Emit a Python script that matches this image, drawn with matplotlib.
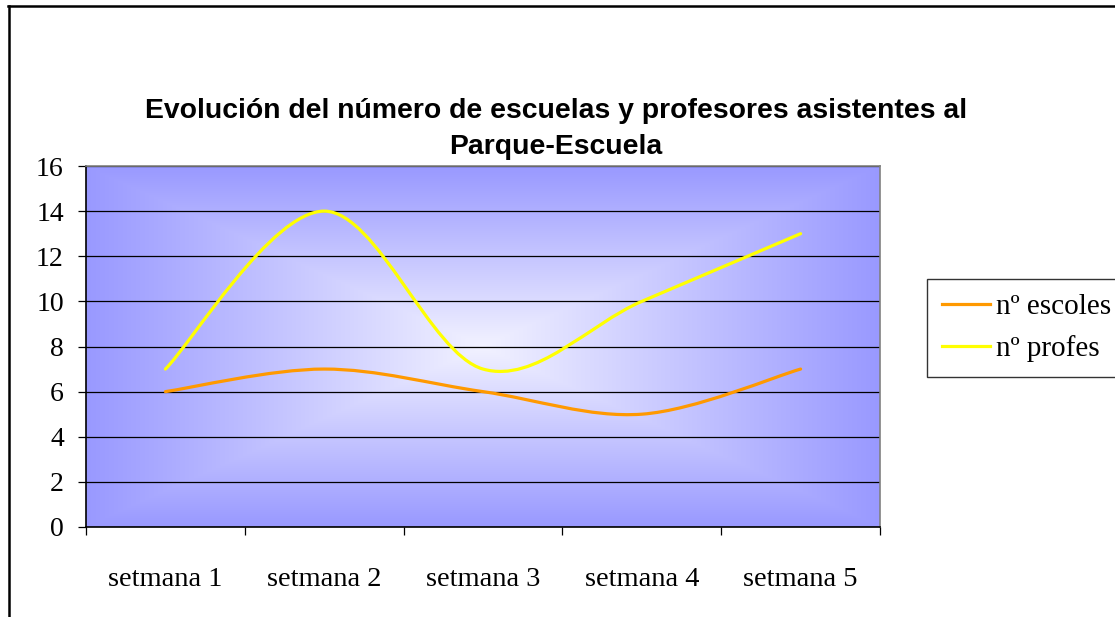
import numpy as np
import matplotlib
matplotlib.use("Agg")
import matplotlib.pyplot as plt
from matplotlib.path import Path
from matplotlib.patches import PathPatch
from matplotlib.lines import Line2D
from matplotlib.ticker import FixedLocator, NullFormatter, FixedFormatter

weeks = ["setmana 1", "setmana 2", "setmana 3", "setmana 4", "setmana 5"]
escoles = [6, 7, 6, 5, 7]
profes = [7, 14, 7, 10, 13]
series_names = ["nº escoles", "nº profes"]
series_colors = ["#FF9900", "#FFFF00"]
title = "Evolución del número de escuelas y profesores asistentes al\nParque-Escuela"

SERIF = "Liberation Serif"


def smooth_path(xs, ys):
    # excel-like smoothed line: cubic bezier through every point
    n = len(xs)
    verts = [(xs[0], ys[0])]
    codes = [Path.MOVETO]
    for i in range(n - 1):
        a = max(i - 1, 0)
        b = min(i + 2, n - 1)
        c1 = (xs[i] + (xs[i + 1] - xs[a]) / 6, ys[i] + (ys[i + 1] - ys[a]) / 6)
        c2 = (xs[i + 1] - (xs[b] - xs[i]) / 6, ys[i + 1] - (ys[b] - ys[i]) / 6)
        verts += [c1, c2, (xs[i + 1], ys[i + 1])]
        codes += [Path.CURVE4] * 3
    return Path(verts, codes)


fig = plt.figure(figsize=(11.15, 6.17), dpi=100)
ax = fig.add_axes([86 / 1115, 1 - 527 / 617, (880 - 86) / 1115, (527 - 166) / 617])

# rectangular "from center" gradient fill of the plot area
u = np.linspace(-1, 1, 400)
U, V = np.meshgrid(u, u)
t = np.maximum(np.abs(U), np.abs(V))
centre = np.array([242, 242, 255]) / 255
edge = np.array([153, 153, 255]) / 255
img = centre[None, None, :] * (1 - t[..., None]) + edge[None, None, :] * t[..., None]
ax.imshow(img, extent=[0, 1, 0, 1], transform=ax.transAxes, aspect="auto",
          interpolation="bilinear", zorder=0)

x = np.arange(len(weeks))
for vals, col, name in zip([escoles, profes], series_colors, series_names):
    patch = PathPatch(smooth_path(x, vals), facecolor="none", edgecolor=col,
                      lw=2.3, capstyle="round", joinstyle="round", zorder=3)
    ax.add_patch(patch)

ax.set_xlim(-0.5, len(weeks) - 0.5)
ax.set_ylim(0, 16)
ax.set_axisbelow("line")

ax.yaxis.set_major_locator(FixedLocator(range(0, 17, 2)))
ax.grid(axis="y", color="black", lw=0.9)
ax.tick_params(axis="y", direction="out", length=6, width=0.9, pad=10, labelsize=20)

ax.xaxis.set_major_locator(FixedLocator(np.arange(-0.5, len(weeks), 1)))
ax.xaxis.set_major_formatter(NullFormatter())
ax.xaxis.set_minor_locator(FixedLocator(x))
ax.xaxis.set_minor_formatter(FixedFormatter(weeks))
ax.tick_params(axis="x", which="major", direction="out", length=6, width=0.9)
ax.tick_params(axis="x", which="minor", length=0, pad=29, labelsize=20.5)

for lab in ax.get_xticklabels(minor=True) + ax.get_yticklabels():
    lab.set_fontfamily(SERIF)

ax.spines["left"].set_color("black")
ax.spines["bottom"].set_color("black")
ax.spines["top"].set_color("#808080")
ax.spines["right"].set_color("#808080")
for s in ax.spines.values():
    s.set_linewidth(1.2)

fig.text(556 / 1115, 1 - 129 / 617, title, ha="center", va="center",
         fontsize=20.4, fontweight="bold", family="Liberation Sans", linespacing=1.55)

handles = [Line2D([], [], color=c, lw=2.3) for c in series_colors]
leg = fig.legend(handles, series_names, loc="upper left",
                 bbox_to_anchor=(927 / 1115, 1 - 279 / 617), borderaxespad=0,
                 prop={"family": SERIF, "size": 21}, frameon=True, fancybox=False,
                 handlelength=1.65, handletextpad=0.2, labelspacing=0.52,
                 borderpad=0.5)
leg.get_frame().set_edgecolor("black")
leg.get_frame().set_linewidth(1)

# outer chart frame (only top and left edges visible)
fig.add_artist(Line2D([8 / 1115, 1], [1 - 6 / 617, 1 - 6 / 617], color="black",
                      lw=1.8, transform=fig.transFigure))
fig.add_artist(Line2D([9 / 1115, 9 / 1115], [1 - 6 / 617, 0], color="black",
                      lw=1.8, transform=fig.transFigure))

fig.savefig("out.png", dpi=100)
